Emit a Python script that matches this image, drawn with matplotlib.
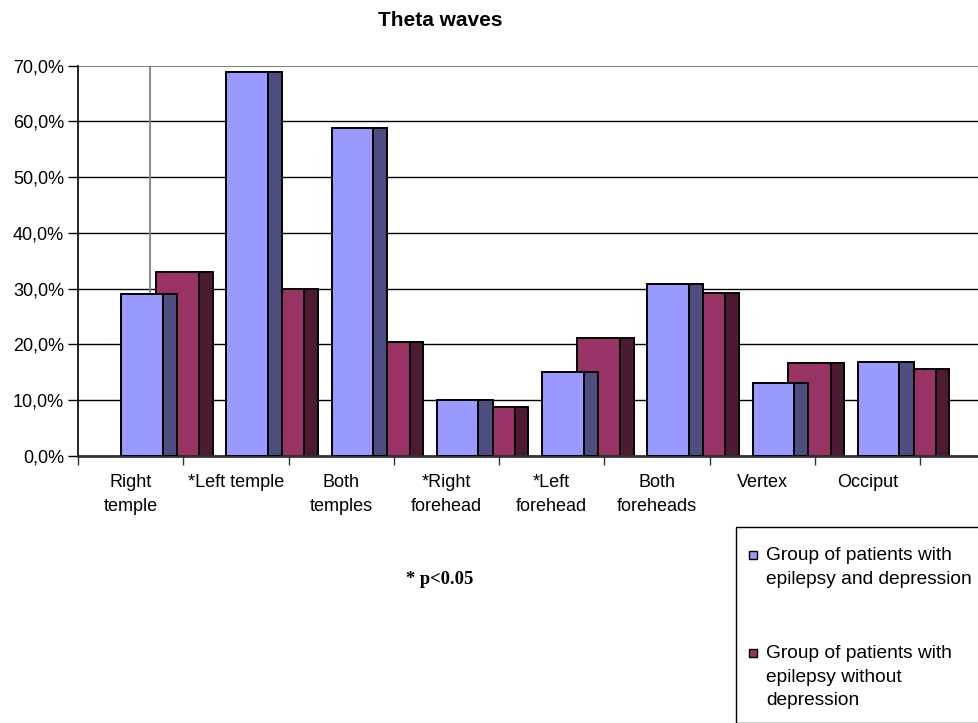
import numpy as np
import matplotlib
matplotlib.use("Agg")
import matplotlib.pyplot as plt
from matplotlib.patches import Rectangle
from matplotlib.ticker import FuncFormatter

plt.rcParams['font.family'] = ['Liberation Sans', 'DejaVu Sans']

# ── Data ─────────────────────────────────────────────────────────────────────
categories = ["Right\ntemple", "*Left temple", "Both\ntemples", "*Right\nforehead",
              "*Left\nforehead", "Both\nforeheads", "Vertex", "Occiput"]
with_depression    = [29.0, 68.9, 58.9, 10.0, 15.1, 30.8, 13.1, 16.9]
without_depression = [33.0, 30.0, 20.5, 8.7, 21.2, 29.2, 16.6, 15.6]
series_labels = ["Group of patients with\nepilepsy and depression",
                 "Group of patients with\nepilepsy without\ndepression"]
y_ticks = [0, 10, 20, 30, 40, 50, 60, 70]

# Excel-style pseudo 3D colours: front face / side face
blue_front, blue_side = "#9999FF", "#4D4D80"
red_front,  red_side  = "#993366", "#4D1A33"

W, H = 979, 723
fig = plt.figure(figsize=(W / 100, H / 100), dpi=100)

# axes placed in pixel coordinates
x0, x1, y_bot, y_top = 78, 979, 456, 65.7
ax = fig.add_axes([x0 / W, (H - y_bot) / H, (x1 - x0) / W, (y_bot - y_top) / H])
cat_w = 105.25
ax.set_xlim(0, (x1 - x0) / cat_w)
ax.set_ylim(0, 70)

x = np.arange(len(categories))

# back wall edge line
ax.axvline(0.684, color="#808080", lw=1.3, zorder=1)

# ── Bars (red behind blue, side faces to the right of front faces) ───────────
ax.bar(x + 0.745, without_depression, width=0.405, align="edge",
       color=red_front, edgecolor="black", lw=1.4, zorder=2)
ax.bar(x + 1.15, without_depression, width=0.13, align="edge",
       color=red_side, edgecolor="black", lw=1.4, zorder=2)
ax.bar(x + 0.41, with_depression, width=0.395, align="edge",
       color=blue_front, edgecolor="black", lw=1.4, zorder=3)
ax.bar(x + 0.805, with_depression, width=0.135, align="edge",
       color=blue_side, edgecolor="black", lw=1.4, zorder=3)

# ── Axes styling ─────────────────────────────────────────────────────────────
ax.set_yticks(y_ticks)
ax.yaxis.set_major_formatter(FuncFormatter(lambda v, p: f"{v:.1f}%".replace(".", ",")))
ax.grid(axis="y", color="black", lw=1.0, zorder=0)
ax.set_axisbelow(True)
ax.get_ygridlines()[-1].set_color("#808080")
ax.get_ygridlines()[-1].set_linewidth(1.5)

ax.set_xticks(np.arange(len(categories) + 1))
ax.set_xticklabels([])
ax.set_xticks(x + 0.5, minor=True)
ax.set_xticklabels(categories, minor=True, linespacing=1.5)
ax.tick_params(axis="x", which="major", length=6.5, width=1, color="#333333", direction="out")
ax.tick_params(axis="x", which="minor", length=0, pad=13, labelsize=13)
ax.tick_params(axis="y", length=7, width=1, pad=3, labelsize=13)
for lbl in ax.get_xticklabels(minor=True):
    lbl.set_verticalalignment("top")

for s in ["top", "right"]:
    ax.spines[s].set_visible(False)
ax.spines["left"].set_color("black")
ax.spines["left"].set_linewidth(1.2)
ax.spines["bottom"].set_color("#333333")
ax.spines["bottom"].set_linewidth(2)

# ── Title and note ───────────────────────────────────────────────────────────
fig.text(440 / W, 1 - 21 / H, "Theta waves", ha="center", va="center",
         fontsize=15, fontweight="bold")
fig.text(440 / W, 1 - 579 / H, "* p<0.05", ha="center", va="center",
         fontsize=13.3, fontweight="bold", family="Liberation Serif")

# ── Legend (box runs off the figure edge like the original) ──────────────────
fig.patches.append(Rectangle((736 / W, 0), 0.5, (H - 527) / H, transform=fig.transFigure,
                             facecolor="white", edgecolor="black", lw=1, zorder=5))
for (label, color, ytxt) in zip(series_labels, [blue_front, red_front], [555, 653]):
    fig.patches.append(Rectangle((749 / W, 1 - (ytxt + 4) / H), 8 / W, 8 / H,
                                 transform=fig.transFigure, facecolor=color,
                                 edgecolor="black", lw=1, zorder=6))
    fig.text(766 / W, 1 - (ytxt - 8) / H, label, ha="left", va="top",
             fontsize=13.8, linespacing=1.5, zorder=7)

fig.savefig("out.png", dpi=100)
